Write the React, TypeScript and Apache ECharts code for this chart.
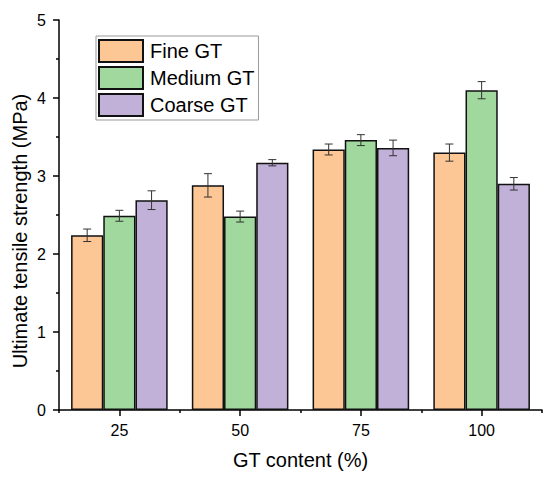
import React, { useEffect, useRef } from "react";
import * as echarts from "echarts";

const categories = ["25", "50", "75", "100"];
const seriesNames = ["Fine GT", "Medium GT", "Coarse GT"];
const fineValues = [2.24, 2.88, 3.34, 3.3];
const mediumValues = [2.49, 2.48, 3.46, 4.1];
const coarseValues = [2.69, 3.17, 3.36, 2.9];
const fineErrors = [0.08, 0.15, 0.07, 0.11];
const mediumErrors = [0.07, 0.07, 0.07, 0.11];
const coarseErrors = [0.12, 0.04, 0.1, 0.08];
const colors = ["#FCC794", "#A0D89D", "#C1B0D7"];

const FONT = "'Liberation Sans', Arial, sans-serif";

export default function App() {
  const ref = useRef<HTMLDivElement>(null);

  useEffect(() => {
    if (!ref.current) return;
    document.body.style.margin = "0";
    const chart = echarts.init(ref.current, undefined, { renderer: "svg" });
    const values = [fineValues, mediumValues, coarseValues];
    const errors = [fineErrors, mediumErrors, coarseErrors];
    const barCatGap = 0.2;

    const barSeries = seriesNames.map((name, k) => ({
      type: "bar",
      name,
      xAxisIndex: 0,
      yAxisIndex: 0,
      data: values[k],
      barGap: "0%",
      barCategoryGap: "20%",
      itemStyle: { color: colors[k], borderColor: "#111", borderWidth: 1.5 },
      z: 2,
    }));

    const errSeries = seriesNames.map((name, k) => ({
      type: "custom",
      name: name + " error",
      xAxisIndex: 0,
      yAxisIndex: 0,
      z: 5,
      data: values[k].map((v, i) => [i, v, errors[k][i]]),
      renderItem: (params: any, api: any) => {
        const idx = api.value(0);
        const v = api.value(1);
        const e = api.value(2);
        const band = api.size([1, 0])[0];
        const bw = (band * (1 - barCatGap)) / 3;
        const c = api.coord([idx, v]);
        const x = c[0] + (k - 1) * bw;
        const top = api.coord([idx, v + e])[1];
        const bot = api.coord([idx, v - e])[1];
        const cap = 4;
        const style = { stroke: "#333", lineWidth: 1, fill: "none" };
        return {
          type: "group",
          children: [
            { type: "line", shape: { x1: x, y1: top, x2: x, y2: bot }, style },
            { type: "line", shape: { x1: x - cap, y1: top, x2: x + cap, y2: top }, style },
            { type: "line", shape: { x1: x - cap, y1: bot, x2: x + cap, y2: bot }, style },
          ],
        };
      },
    }));

    chart.setOption({
      animation: false,
      textStyle: { fontFamily: FONT },
      grid: { left: 59, right: 8, top: 20, bottom: 71, containLabel: false },
      legend: {
        data: seriesNames,
        orient: "vertical",
        left: 96,
        top: 36,
        padding: [3, 4, 3, 2],
        itemWidth: 44,
        itemHeight: 22,
        itemGap: 3,
        icon: "rect",
        borderColor: "#999",
        borderWidth: 1,
        textStyle: { fontSize: 20, color: "#000", fontFamily: FONT, padding: [0, 0, 0, 2] },
      },
      xAxis: [
        {
          type: "category",
          data: categories,
          position: "bottom",
          axisLine: { show: true, lineStyle: { color: "#000", width: 1.5 } },
          axisTick: { show: true, alignWithLabel: true, inside: false, length: 6, lineStyle: { color: "#000", width: 1.5 } },
          axisLabel: { fontSize: 16, color: "#000", margin: 12, fontFamily: FONT },
          name: "GT content (%)",
          nameLocation: "middle",
          nameGap: 40,
          nameTextStyle: { fontSize: 20, color: "#000", fontFamily: FONT },
          splitLine: { show: false },
        },
        {
          type: "category",
          data: categories,
          position: "bottom",
          axisLine: { show: false },
          axisTick: { show: true, alignWithLabel: false, inside: false, length: 3, lineStyle: { color: "#000", width: 1.5 } },
          axisLabel: { show: false },
          splitLine: { show: false },
        },
      ],
      yAxis: {
        type: "value",
        min: 0,
        max: 5,
        interval: 1,
        axisLine: { show: true, lineStyle: { color: "#000", width: 1.5 } },
        axisTick: { show: true, inside: false, length: 6, lineStyle: { color: "#000", width: 1.5 } },
        minorTick: { show: true, splitNumber: 2, length: 3, lineStyle: { color: "#000", width: 1.5 } },
        axisLabel: { fontSize: 16, color: "#000", margin: 13, fontFamily: FONT },
        splitLine: { show: false },
      },
      graphic: [
        {
          type: "text",
          x: 20,
          y: 231,
          rotation: Math.PI / 2,
          style: {
            text: "Ultimate tensile strength (MPa)",
            fontSize: 20,
            fontFamily: FONT,
            fill: "#000",
            align: "center",
            verticalAlign: "middle",
          },
        },
      ],
      series: [...barSeries, ...errSeries],
    });

    return () => chart.dispose();
  }, []);

  return <div ref={ref} style={{ width: 550, height: 481 }} />;
}
